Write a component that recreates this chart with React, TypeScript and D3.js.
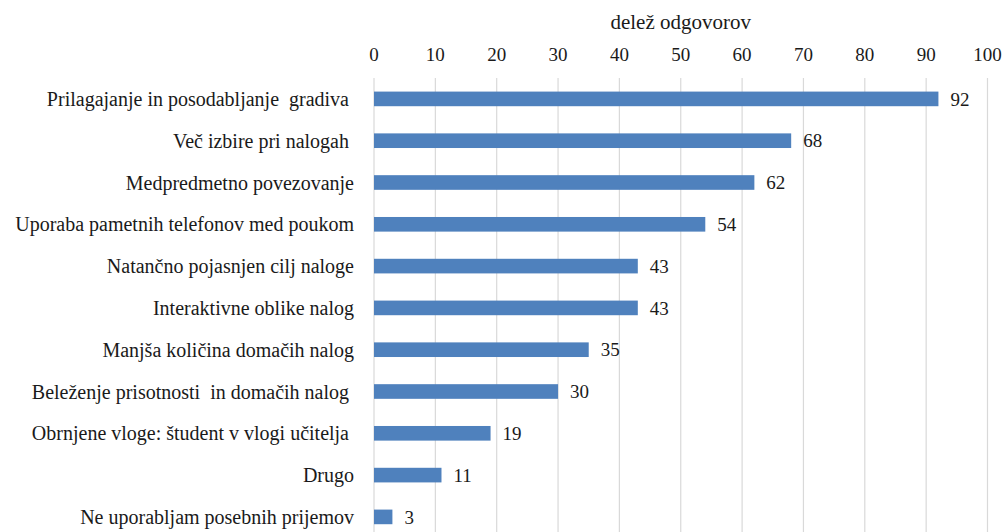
import React, { useEffect, useRef } from "react";
import * as d3 from "d3";

const categories = [
  "Prilagajanje in posodabljanje  gradiva ",
  "Več izbire pri nalogah ",
  "Medpredmetno povezovanje",
  "Uporaba pametnih telefonov med poukom",
  "Natančno pojasnjen cilj naloge",
  "Interaktivne oblike nalog",
  "Manjša količina domačih nalog",
  "Beleženje prisotnosti  in domačih nalog ",
  "Obrnjene vloge: študent v vlogi učitelja ",
  "Drugo",
  "Ne uporabljam posebnih prijemov",
];
const values = [92, 68, 62, 54, 43, 43, 35, 30, 19, 11, 3];
const tickValues = [0, 10, 20, 30, 40, 50, 60, 70, 80, 90, 100];
const axisTitle = "delež odgovorov";

const W = 1006;
const H = 532;
const FONT = "Liberation Serif, Times New Roman, Liberation Sans, Arial, sans-serif";

export default function App() {
  const ref = useRef<SVGSVGElement>(null);

  useEffect(() => {
    const svg = d3.select(ref.current);
    svg.selectAll("*").remove();
    svg.style("font-family", FONT);

    const x = d3.scaleLinear().domain([0, 100]).range([374, 987.5]);
    const y = d3
      .scaleBand<string>()
      .domain(categories)
      .range([78, 78 + 41.8 * categories.length])
      .paddingInner(0.65)
      .paddingOuter(0.325);

    svg
      .append("g")
      .selectAll("line")
      .data(tickValues)
      .join("line")
      .attr("x1", (d) => x(d))
      .attr("x2", (d) => x(d))
      .attr("y1", 78)
      .attr("y2", H)
      .attr("stroke", "#d9d9d9")
      .attr("stroke-width", 1.2);

    svg
      .append("g")
      .selectAll("text")
      .data(tickValues)
      .join("text")
      .attr("x", (d) => x(d))
      .attr("y", 61)
      .attr("text-anchor", "middle")
      .style("font-size", "19px")
      .attr("fill", "#1a1a1a")
      .text((d) => String(d));

    svg
      .append("text")
      .attr("x", (x(0) + x(100)) / 2)
      .attr("y", 29)
      .attr("text-anchor", "middle")
      .style("font-size", "21px")
      .attr("fill", "#1a1a1a")
      .text(axisTitle);

    svg
      .append("g")
      .selectAll("rect")
      .data(values)
      .join("rect")
      .attr("x", x(0))
      .attr("y", (_, i) => y(categories[i])!)
      .attr("width", (d) => x(d) - x(0))
      .attr("height", y.bandwidth())
      .attr("fill", "#4f81bd");

    svg
      .append("g")
      .selectAll("text")
      .data(values)
      .join("text")
      .attr("x", (d) => x(d) + 12)
      .attr("y", (_, i) => y(categories[i])! + y.bandwidth() / 2)
      .attr("dy", "0.35em")
      .style("font-size", "19px")
      .attr("fill", "#1a1a1a")
      .text((d) => String(d));

    svg
      .append("g")
      .selectAll("text")
      .data(categories)
      .join("text")
      .attr("x", 354)
      .attr("y", (d) => y(d)! + y.bandwidth() / 2)
      .attr("dy", "0.35em")
      .attr("text-anchor", "end")
      .style("font-size", "20px")
      .attr("fill", "#1a1a1a")
      .style("white-space", "pre")
      .text((d) => d);
  }, []);

  return (
    <svg
      ref={ref}
      width={W}
      height={H}
      style={{ position: "absolute", left: 0, top: 0, background: "#fff" }}
    />
  );
}
